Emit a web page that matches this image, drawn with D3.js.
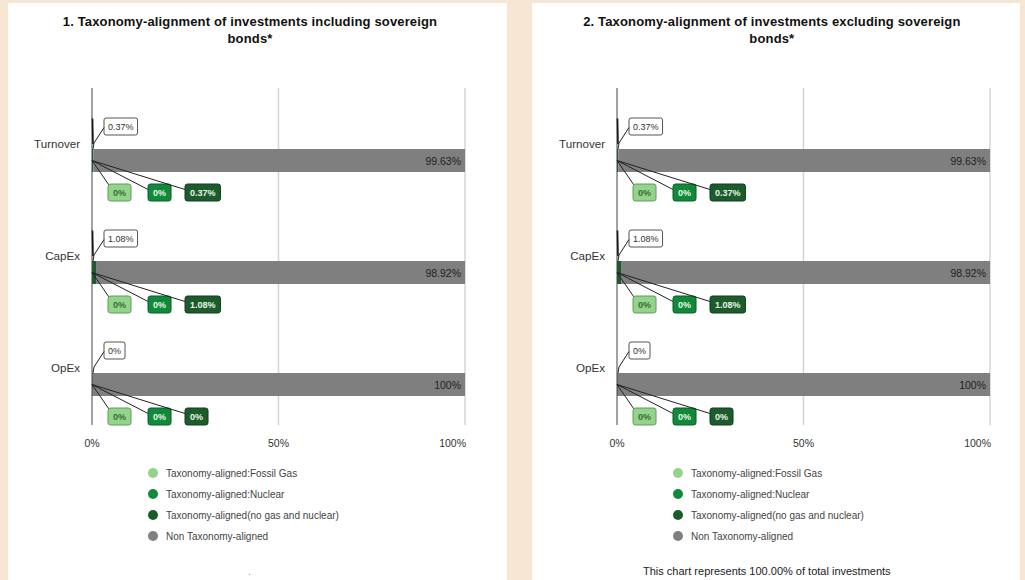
<!DOCTYPE html>
<html>
<head>
<meta charset="utf-8">
<script src="https://cdn.jsdelivr.net/npm/d3@7"></script>
<style>
  body { margin: 0; background: #f8e6d4; }
  svg { display: block; font-family: "Liberation Sans", Arial, sans-serif; }
</style>
</head>
<body>
<svg width="1025" height="580"></svg>
<script>
// values (both show the same split)
const categories = ['Turnover', 'CapEx', 'OpEx'];
const fossilGas = [0, 0, 0];
const nuclear = [0, 0, 0];
const alignedOther = [0.37, 1.08, 0];
const nonAligned = [99.63, 98.92, 100];
const tickValues = [0, 50, 100];
const seriesNames = ['Taxonomy-aligned:Fossil Gas', 'Taxonomy-aligned:Nuclear',
  'Taxonomy-aligned(no gas and nuclear)', 'Non Taxonomy-aligned'];
const seriesColors = ['#93d38b', '#10893b', '#1c5c2c', '#7f7f7f'];
const boxStroke = ['#5c9e55', '#0b5e29', '#123d1d'];
const titles = [
  ['1. Taxonomy-alignment of investments including sovereign', 'bonds*'],
  ['2. Taxonomy-alignment of investments excluding sovereign', 'bonds*']
];
const footers = ['.', 'This chart represents 100.00% of total investments'];

const keys = ['gas', 'nuc', 'other', 'non'];
const rows = categories.map((c, i) => ({
  cat: c, gas: fossilGas[i], nuc: nuclear[i], other: alignedOther[i], non: nonAligned[i]
}));
const stacked = d3.stack().keys(keys)(rows);
const fmt = v => v + '%';

const svg = d3.select('svg');

// panel backgrounds
svg.append('rect').attr('x', 8).attr('y', 3).attr('width', 499).attr('height', 577).attr('fill', '#fff');
svg.append('rect').attr('x', 532).attr('y', 3).attr('width', 488).attr('height', 577).attr('fill', '#fff');

function drawPanel(p) {
  const off = p * 525;
  const g = svg.append('g');
  const x = d3.scaleLinear().domain([0, 100]).range([92 + off, 465 + off]);
  const y = d3.scalePoint().domain(categories).range([160.5, 384.5]);
  const barH = 23;

  // title
  const t = g.append('text').attr('text-anchor', 'middle')
    .attr('font-weight', 'bold').attr('font-size', 13).attr('fill', '#111')
    .attr('letter-spacing', 0.15);
  t.append('tspan').attr('x', 250 + off * 0.994).attr('y', 26).text(titles[p][0]);
  t.append('tspan').attr('x', 250 + off * 0.994).attr('y', 43).text(titles[p][1]);

  // gridlines
  g.selectAll('.grid').data(tickValues.slice(1)).enter().append('line')
    .attr('x1', d => x(d)).attr('x2', d => x(d))
    .attr('y1', 88).attr('y2', 425)
    .attr('stroke', '#d4d4d4').attr('stroke-width', 1.5);

  // tick labels
  g.selectAll('.tick').data(tickValues).enter().append('text')
    .attr('x', (d, i) => i === tickValues.length - 1 ? x(d) + 1 : x(d))
    .attr('y', 447)
    .attr('text-anchor', (d, i) => i === tickValues.length - 1 ? 'end' : 'middle')
    .attr('font-size', 10.5).attr('fill', '#333')
    .text(d => d + '%');

  // bars
  stacked.forEach((s, si) => {
    g.selectAll('.bar' + si).data(s).enter().append('rect')
      .attr('x', d => x(d[0]))
      .attr('width', d => Math.max(0, x(d[1]) - x(d[0])))
      .attr('y', d => y(d.data.cat) - barH / 2)
      .attr('height', barH)
      .attr('fill', seriesColors[si]);
  });

  // axis line
  g.append('line').attr('x1', x(0)).attr('x2', x(0)).attr('y1', 88).attr('y2', 425)
    .attr('stroke', '#444').attr('stroke-width', 1);

  // category labels
  g.selectAll('.cat').data(categories).enter().append('text')
    .attr('x', x(0) - 12).attr('y', d => y(d) - 17 + 4)
    .attr('text-anchor', 'end').attr('font-size', 11.6).attr('fill', '#333')
    .text(d => d);

  // non-aligned value labels inside bars
  g.selectAll('.val').data(rows).enter().append('text')
    .attr('x', x(100) - 4).attr('y', d => y(d.cat) + 4)
    .attr('text-anchor', 'end').attr('font-size', 10.5).attr('fill', '#222')
    .text(d => fmt(d.non));

  // callouts
  rows.forEach(r => {
    const cy = y(r.cat);
    const x0 = x(0);
    const total = +(r.gas + r.nuc + r.other).toFixed(2);

    // top white box (total aligned)
    const topCy = cy - 34, topLeft = x0 + 12;
    const tt = g.append('text').attr('x', topLeft + 4).attr('y', topCy + 3.5)
      .attr('font-size', 9).attr('fill', '#333').text(fmt(total));
    const tw = tt.node().getComputedTextLength() + 8;
    g.insert('rect', () => tt.node())
      .attr('x', topLeft).attr('y', topCy - 8.5).attr('width', tw).attr('height', 17)
      .attr('rx', 2).attr('fill', '#fff').attr('stroke', '#555').attr('stroke-width', 1);
    if (total > 0) {
      g.append('line').attr('x1', x0 + 0.5).attr('x2', x0 + 1)
        .attr('y1', topCy - 8).attr('y2', cy - barH / 2 - 5)
        .attr('stroke', '#111').attr('stroke-width', 1.6);
    }
    g.append('path')
      .attr('d', `M${x0 + 1},${cy - barH / 2}L${x0 + 2},${cy - barH / 2 - 6}L${topLeft},${topCy + 1}`)
      .attr('fill', 'none').attr('stroke', '#222').attr('stroke-width', 1);

    // bottom coloured boxes
    const vals = [r.gas, r.nuc, r.other];
    const lefts = [x0 + 16, x0 + 56, x0 + 93];
    const by = cy + 32;
    vals.forEach((v, i) => {
      g.append('line').attr('x1', x0).attr('y1', cy)
        .attr('x2', lefts[i] + (i === 0 ? 2 : 0)).attr('y2', by - (i === 0 ? 6 : 3))
        .attr('stroke', '#222').attr('stroke-width', 1);
      const bt = g.append('text').attr('x', lefts[i] + 5).attr('y', by + 3.5)
        .attr('font-size', 9).attr('font-weight', 'bold')
        .attr('fill', i === 0 ? '#3d6b3a' : '#e8f5e6').text(fmt(v));
      const bw = bt.node().getComputedTextLength() + 10;
      g.insert('rect', () => bt.node())
        .attr('x', lefts[i]).attr('y', by - 8.5).attr('width', bw).attr('height', 17)
        .attr('rx', 2.5).attr('fill', seriesColors[i])
        .attr('stroke', boxStroke[i]).attr('stroke-width', 1);
    });
  });

  // legend
  const lg = g.selectAll('.leg').data(seriesNames).enter().append('g')
    .attr('transform', (d, i) => `translate(${153 + off},${473 + i * 21})`);
  lg.append('circle').attr('r', 5).attr('fill', (d, i) => seriesColors[i]);
  lg.append('text').attr('x', 13).attr('y', 3.5).attr('font-size', 10)
    .attr('fill', '#444').text(d => d);

  // footer
  g.append('text').attr('x', p === 0 ? 248 : 643).attr('y', 575)
    .attr('font-size', 11).attr('fill', p === 0 ? '#999' : '#222').text(footers[p]);
}

drawPanel(0);
drawPanel(1);
</script>
</body>
</html>
